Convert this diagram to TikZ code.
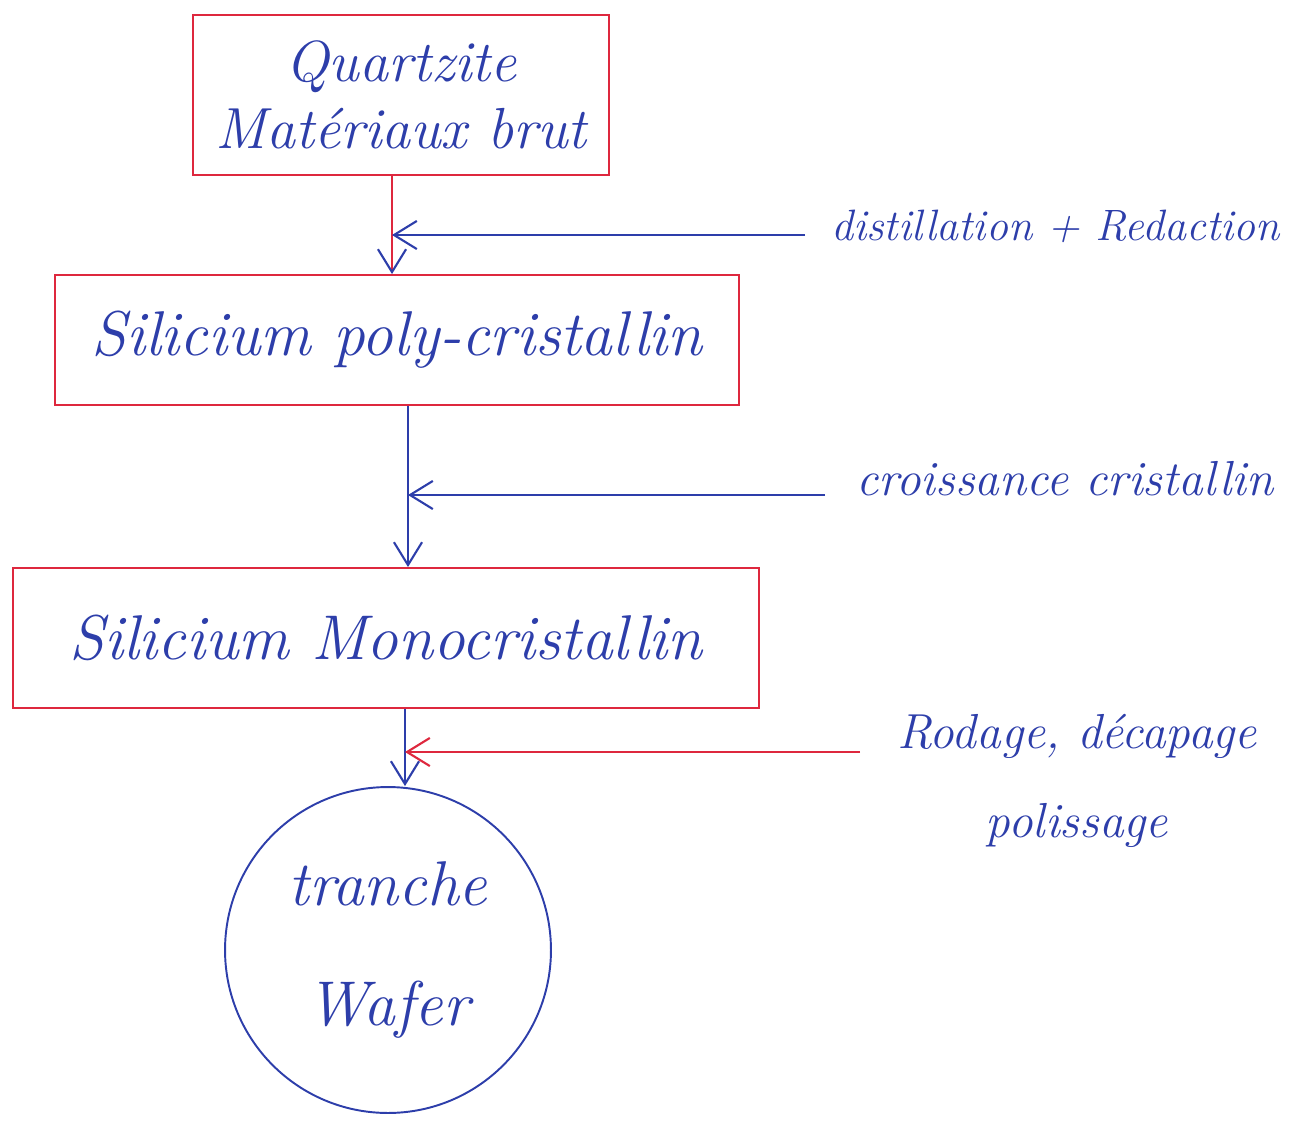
\documentclass[tikz,border=0pt]{standalone}
\usetikzlibrary{arrows.meta}
\definecolor{penred}{RGB}{222,40,62}
\definecolor{penblue}{RGB}{45,62,170}
\begin{document}
\begin{tikzpicture}[x=0.02cm,y=-0.02cm,
  etape/.style={draw=penred, line width=1.1pt, text=penblue, align=center,
    font=\fontsize{36}{43}\selectfont\itshape},
  note/.style={text=penblue, align=center, font=\fontsize{28}{34}\selectfont\itshape},
  fleche/.style={line width=1.2pt, -{Straight Barb[length=13pt,width=16pt,color=penblue]}}]

\useasboundingbox (0,0) rectangle (1303,1127);

% les etapes
\node[etape, minimum width=8.34cm, minimum height=3.2cm, font=\fontsize{33}{38}\selectfont\itshape] (quartz) at (401,95) {Quartzite\\Matériaux brut};
\node[etape, minimum width=13.7cm, minimum height=2.6cm] (poly) at (397,340) {Silicium poly-cristallin};
\node[etape, minimum width=14.94cm, minimum height=2.8cm] (mono) at (386,638) {Silicium Monocristallin};
\node[etape, circle, draw=penblue, minimum size=6.52cm, inner sep=0pt] (wafer) at (388,950) {tranche\\[25pt]Wafer};

% les procedes
\node[note, anchor=base west, font=\fontsize{25}{30}\selectfont\itshape] (distil) at (825,240) {distillation + Redaction};
\node[note, anchor=base west] (croiss) at (850,495) {croissance cristallin};
\node[note] (rodage) at (1077,781) {Rodage, décapage\\[17pt]polissage};

% departs des fleches
\coordinate (q1) at ([xshift=-0.18cm]quartz.south);
\coordinate (p1) at ([xshift=0.22cm]poly.south);
\coordinate (m1) at ([xshift=0.38cm]mono.south);
\coordinate (d1) at (805,235);
\coordinate (d2) at (825,495);
\coordinate (d3) at (860,752);

% fleches verticales
\draw[fleche, draw=penred] (q1) -- (q1 |- poly.north);
\draw[fleche, draw=penblue] (p1) -- (p1 |- mono.north);
\draw[fleche, draw=penblue] (m1) -- (m1 |- wafer.north);

% fleches horizontales
\draw[fleche, draw=penblue] (d1) -- (d1 -| q1);
\draw[fleche, draw=penblue] (d2) -- (d2 -| p1);
\draw[line width=1.2pt, draw=penred, -{Straight Barb[length=13pt,width=16pt]}] (d3) -- (d3 -| m1);
\end{tikzpicture}
\end{document}
